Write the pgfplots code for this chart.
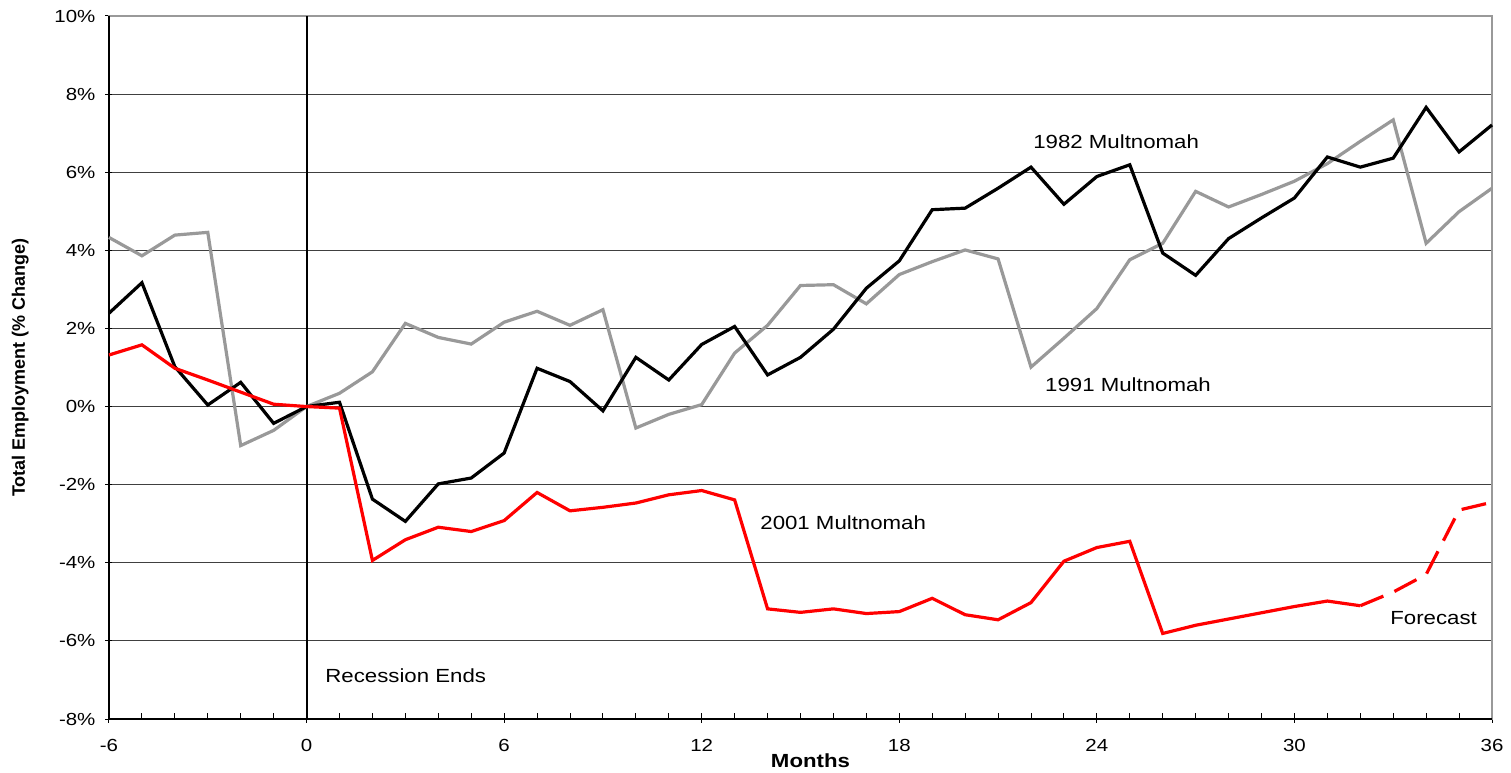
\documentclass[border=0pt]{standalone}
\usepackage{pgfplots}
\pgfplotsset{compat=1.18}
\usepackage{pgfplotstable}
\usepackage{fontspec}
\setmainfont{Liberation Sans}[FakeStretch=1.17]
\newfontfamily\ylabfont{Liberation Sans}

% month, 1982, 1991, 2001
\pgfplotstableread{
m     a      b      c
-6    2.39   4.33   1.32
-5    3.17   3.86   1.58
-4    1.02   4.39   0.98
-3    0.04   4.46   0.68
-2    0.62  -1.00   0.37
-1   -0.43  -0.61   0.06
0     0.00   0.00   0.00
1     0.11   0.34  -0.04
2    -2.37   0.89  -3.94
3    -2.94   2.13  -3.41
4    -1.98   1.77  -3.09
5    -1.83   1.60  -3.20
6    -1.19   2.16  -2.92
7     0.98   2.44  -2.20
8     0.64   2.08  -2.67
9    -0.11   2.48  -2.58
10    1.26  -0.55  -2.47
11    0.68  -0.20  -2.26
12    1.59   0.05  -2.15
13    2.05   1.37  -2.39
14    0.81   2.08  -5.18
15    1.26   3.10  -5.27
16    1.98   3.12  -5.18
17    3.03   2.63  -5.30
18    3.73   3.38  -5.25
19    5.04   3.71  -4.91
20    5.08   4.01  -5.33
21    5.59   3.78  -5.46
22    6.13   1.01  -5.02
23    5.18   1.75  -3.96
24    5.89   2.51  -3.61
25    6.19   3.76  -3.45
26    3.93   4.18  -5.81
27    3.36   5.51  -5.60
28    4.30   5.11  -5.44
29    4.83   5.43  -5.28
30    5.34   5.77  -5.12
31    6.39   6.22  -4.98
32    6.13   6.79  -5.10
33    6.36   7.34   nan
34    7.66   4.18   nan
35    6.52   4.99   nan
36    7.21   5.59   nan
}\emp

\pgfplotstableread{
m    c
32  -5.10
33  -4.75
34  -4.30
35  -2.65
36  -2.45
}\forecast

\definecolor{gline}{HTML}{999999}
\definecolor{grid}{HTML}{404040}

\begin{document}
\begin{tikzpicture}
\begin{axis}[
    scale only axis,
    width=691.5pt, height=351.5pt,
    xmin=-6, xmax=36, ymin=-8, ymax=10,
    xtick={-6,0,...,36},
    minor xtick={-5,...,35},
    ytick={-8,-6,...,10},
    tick pos=left,
    tick align=center,
    major tick length=3.5pt,
    minor tick length=3pt,
    tick style={black, line width=0.5pt},
    minor x tick style={yshift=1.5pt},
    axis line style={draw=gline, line width=0.75pt},
    ymajorgrids,
    major grid style={draw=grid, line width=0.5pt},
    /pgf/number format/assume math mode=true,
    yticklabel={\pgfmathprintnumber{\tick}\%},
    ticklabel style={font=\fontsize{8.75}{10}\selectfont},
    yticklabel style={xshift=-1.5pt},
    xticklabel style={yshift=-5pt},
    xlabel={\bfseries Months},
    xlabel style={font=\fontsize{9.5}{10}\selectfont, yshift=6pt, xshift=5pt},
    ylabel={\ylabfont\bfseries Total Employment (\% Change)},
    ylabel style={font=\fontsize{9}{10}\selectfont, yshift=6pt},
    clip=false,
]
\coordinate (sw) at (rel axis cs:0,0);
\coordinate (ne) at (rel axis cs:1,1);
\draw[black, line width=0.75pt] (rel axis cs:0,1) -- (rel axis cs:0,0) -- (rel axis cs:1,0);
\addplot[black, line width=1pt] coordinates {(0,-8) (0,10)};
\addplot[gline, line width=1.6pt] table[x=m, y=b] {\emp};
\addplot[black, line width=1.6pt] table[x=m, y=a] {\emp};
\addplot[red, line width=1.6pt, unbounded coords=jump] table[x=m, y=c] {\emp};
\addplot[red, line width=1.6pt, dash pattern=on 12.5pt off 6pt] table[x=m, y=c] {\forecast};
\begin{scope}[every node/.style={anchor=west, inner sep=0pt, font=\fontsize{9.5}{10}\selectfont}]
\node at (axis cs:22.06,6.78) {1982 Multnomah};
\node at (axis cs:22.42,0.56) {1991 Multnomah};
\node at (axis cs:13.77,-2.97) {2001 Multnomah};
\node at (axis cs:32.9,-5.42) {Forecast};
\node at (axis cs:0.56,-6.88) {Recession Ends};
\end{scope}
\end{axis}
\pgfresetboundingbox
\path[use as bounding box] ([shift={(-54.5pt,-26.5pt)}]sw) rectangle ([shift={(9.5pt,8pt)}]ne);
\end{tikzpicture}
\end{document}
